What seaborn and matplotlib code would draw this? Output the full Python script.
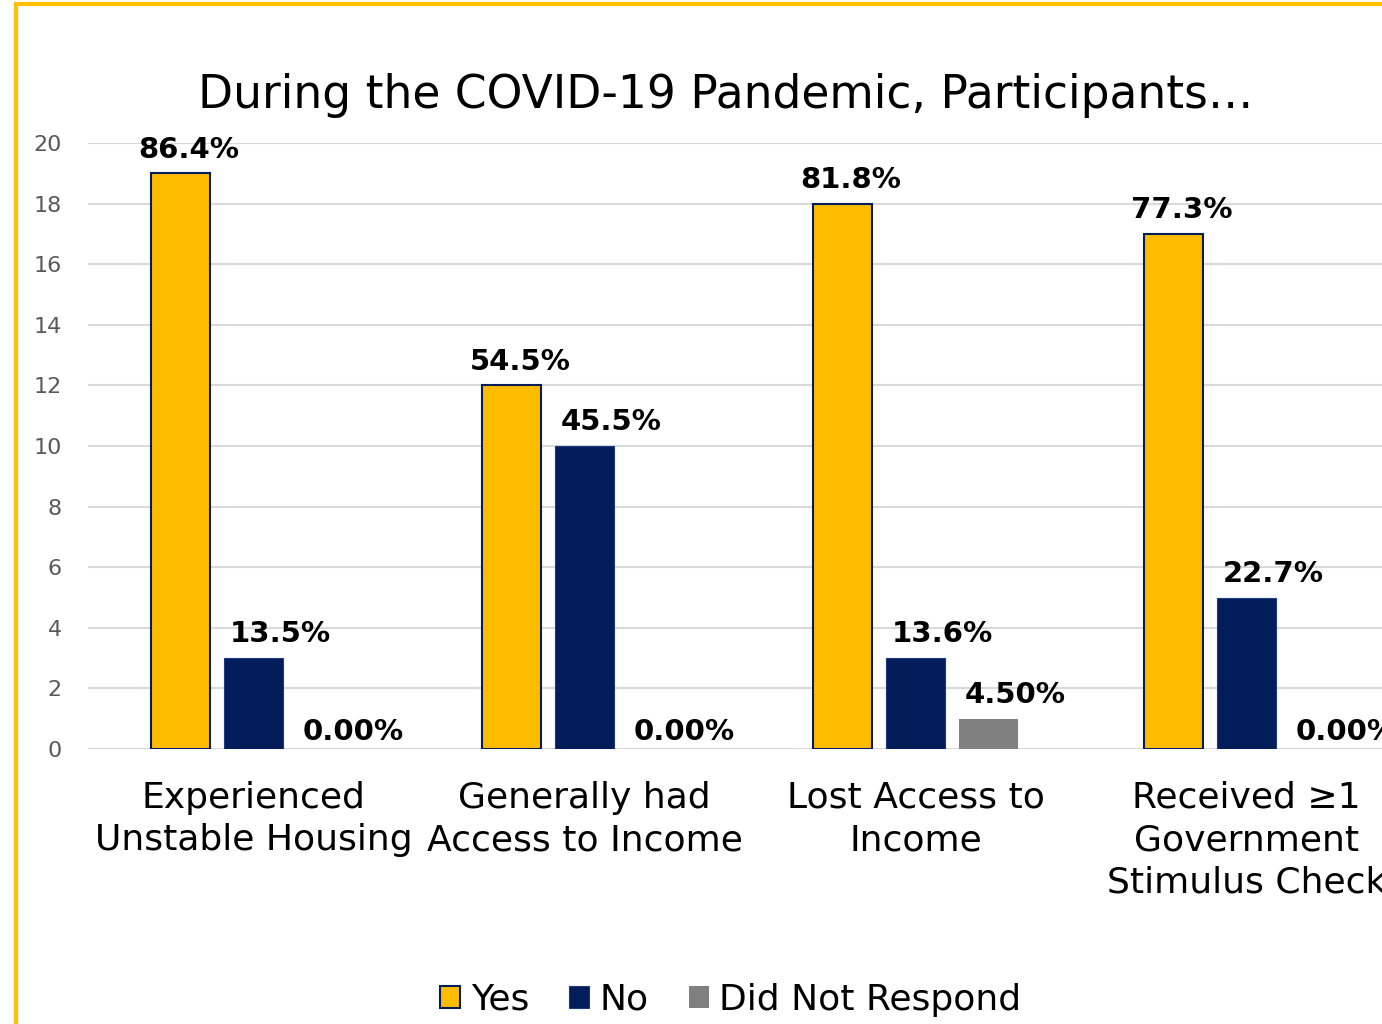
import matplotlib
matplotlib.use("Agg")
import matplotlib.pyplot as plt
from matplotlib.patches import Rectangle
import seaborn as sns
import pandas as pd

# Survey results: participant counts per question and response
categories = [
    "Experienced\nUnstable Housing",
    "Generally had\nAccess to Income",
    "Lost Access to\nIncome",
    "Received \u22651\nGovernment\nStimulus Check",
]
responses = ["Yes", "No", "Did Not Respond"]
yes_counts = [19, 12, 18, 17]
no_counts = [3, 10, 3, 5]
dnr_counts = [0, 0, 1, 0]
yes_labels = ["86.4%", "54.5%", "81.8%", "77.3%"]
no_labels = ["13.5%", "45.5%", "13.6%", "22.7%"]
dnr_labels = ["0.00%", "0.00%", "4.50%", "0.00%"]
y_ticks = [0, 2, 4, 6, 8, 10, 12, 14, 16, 18, 20]

GOLD = "#FDBC00"
NAVY = "#021D5A"
GREY = "#808080"

rows = []
for resp, counts in zip(responses, [yes_counts, no_counts, dnr_counts]):
    for cat, c in zip(categories, counts):
        rows.append({"category": cat, "response": resp, "count": c})
df = pd.DataFrame(rows)

sns.set_style("white")
plt.rcParams["font.family"] = ["DejaVu Sans"]
plt.rcParams["text.color"] = "black"

W, H = 1382, 1024
fig = plt.figure(figsize=(W / 100, H / 100), dpi=100)
ax = fig.add_axes([88 / W, 1 - 749 / H, (1412 - 88) / W, (749 - 143) / H])

sns.barplot(
    data=df, x="category", y="count", hue="response",
    hue_order=responses, order=categories,
    palette=[GOLD, NAVY, GREY], width=0.662, gap=0.19,
    saturation=1, ax=ax, legend=True,
)

edge_styles = [(NAVY, 1.5), ("#1B3A80", 0.8), (GREY, 0)]
all_labels = [yes_labels, no_labels, dnr_labels]
label_dx = [6, 19, 19]  # horizontal nudge of value labels, in points
for container, (ec, lw), labels, dx in zip(ax.containers, edge_styles, all_labels, label_dx):
    for bar, text in zip(container, labels):
        bar.set_edgecolor(ec)
        bar.set_linewidth(lw)
        h = bar.get_height()
        ax.annotate(
            text,
            xy=(bar.get_x() + bar.get_width() / 2, h),
            xytext=(dx, 7 if h > 0 else 2),
            textcoords="offset points",
            ha="center", va="bottom",
            fontsize=21, fontweight="bold", color="black",
        )

ax.set_xlim(-0.5, 3.5)
ax.set_ylim(0, 20)
ax.set_yticks(y_ticks)
ax.set_xlabel("")
ax.set_ylabel("")
ax.yaxis.grid(True, color="#D9D9D9", linewidth=1.5)
ax.set_axisbelow(True)
for s in ax.spines.values():
    s.set_visible(False)
ax.tick_params(axis="y", length=0, pad=19, labelsize=16, labelcolor="#595959")
ax.tick_params(axis="x", length=0, pad=23, labelsize=26, labelcolor="black")
for lbl in ax.get_xticklabels():
    lbl.set_linespacing(1.3)

handles, lbls = ax.get_legend_handles_labels()
if ax.legend_:
    ax.legend_.remove()
for hnd, ec, lw in zip(handles, [NAVY, "#1B3A80", GREY], [1.5, 0.8, 0]):
    hnd.set_edgecolor(ec)
    hnd.set_linewidth(lw)
fig.legend(
    handles, lbls, loc="center", bbox_to_anchor=(731 / W, 1 - 1000 / H),
    ncol=3, frameon=False, fontsize=26, handlelength=0.55, handleheight=0.55,
    handletextpad=0.3, columnspacing=1.1, labelcolor="black",
)

fig.text(726 / W, 1 - 96 / H, "During the COVID-19 Pandemic, Participants\u2026",
         ha="center", va="center", fontsize=32.8, color="black")

# gold frame around the chart area
fig.add_artist(Rectangle((16 / W, -0.2), 1.5, 1.2 - 4 / H, transform=fig.transFigure,
                         fill=False, edgecolor="#FFC000", linewidth=3, clip_on=False))

fig.savefig("out.png", dpi=100)
